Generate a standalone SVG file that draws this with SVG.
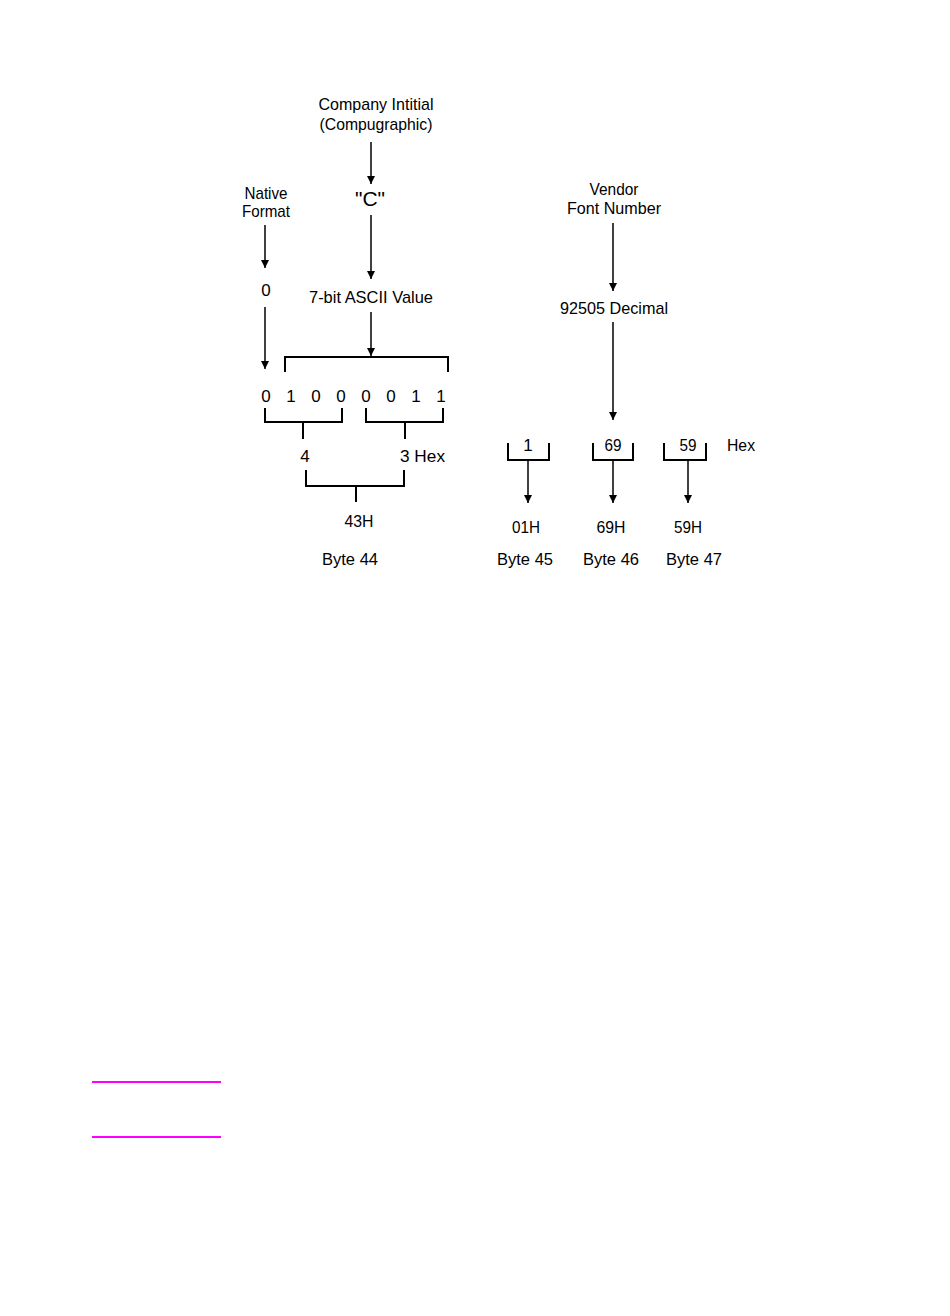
<svg xmlns="http://www.w3.org/2000/svg" width="950" height="1316" viewBox="0 0 950 1316">
<style>
text{font-family:"Liberation Sans",Arial,sans-serif;font-size:17px;fill:#000}
.m{text-anchor:middle}
.br{fill:none;stroke:#000;stroke-width:2}
.ar{fill:none;stroke:#000;stroke-width:1.5}
.mg{stroke:#ff00ff;stroke-width:2}
</style>
<defs>
<marker id="ad" markerUnits="userSpaceOnUse" markerWidth="8" markerHeight="8" viewBox="0 0 8 8" refX="8" refY="4" orient="auto">
<path d="M0,0 L8,4 L0,8 Z" fill="#000"/>
</marker>
</defs>
<rect width="950" height="1316" fill="#fff"/>
<g id="connectors">
<line class="ar" x1="265" y1="225" x2="265" y2="268" marker-end="url(#ad)"/>
<line class="ar" x1="265" y1="307" x2="265" y2="369" marker-end="url(#ad)"/>
<line class="ar" x1="371" y1="142" x2="371" y2="184" marker-end="url(#ad)"/>
<line class="ar" x1="371" y1="215" x2="371" y2="279" marker-end="url(#ad)"/>
<line class="ar" x1="371" y1="312" x2="371" y2="356" marker-end="url(#ad)"/>
<path class="br" d="M285,372 V357 H448 V372"/>
<path class="br" d="M265,408 V422 H342 V408 M303,422 V439"/>
<path class="br" d="M366,408 V422 H443 V408 M405,422 V439"/>
<path class="br" d="M306,470 V486 H404 V470 M356,486 V502"/>
<line class="ar" x1="613" y1="223" x2="613" y2="291" marker-end="url(#ad)"/>
<line class="ar" x1="613" y1="322" x2="613" y2="420" marker-end="url(#ad)"/>
<path class="br" d="M508,443 V460 H549 V443"/>
<path class="br" d="M593,443 V460 H633 V443"/>
<path class="br" d="M664,443 V460 H706 V443"/>
<line class="ar" x1="528" y1="460" x2="528" y2="503" marker-end="url(#ad)"/>
<line class="ar" x1="613" y1="460" x2="613" y2="503" marker-end="url(#ad)"/>
<line class="ar" x1="688" y1="460" x2="688" y2="503" marker-end="url(#ad)"/>
</g>
<g id="company">
<text class="m" x="376" y="110" textLength="115" lengthAdjust="spacingAndGlyphs">Company  Intitial</text>
<text class="m" x="376" y="130" textLength="113" lengthAdjust="spacingAndGlyphs">(Compugraphic)</text>
</g>
<g id="letterC"><text class="m" x="370" y="206" style="font-size:21px">"C"</text></g>
<g id="native">
<text class="m" x="266" y="199" textLength="43" lengthAdjust="spacingAndGlyphs">Native</text>
<text class="m" x="266" y="217" textLength="48" lengthAdjust="spacingAndGlyphs">Format</text>
</g>
<g id="zero"><text class="m" x="266" y="296">0</text></g>
<g id="ascii"><text class="m" x="371" y="303" textLength="124" lengthAdjust="spacingAndGlyphs">7-bit  ASCII  Value</text></g>
<g id="bits">
<text class="m" x="266" y="402">0</text>
<text class="m" x="291" y="402">1</text>
<text class="m" x="316" y="402">0</text>
<text class="m" x="341" y="402">0</text>
<text class="m" x="366" y="402">0</text>
<text class="m" x="391" y="402">0</text>
<text class="m" x="416" y="402">1</text>
<text class="m" x="441" y="402">1</text>
</g>
<g id="nibbles">
<text class="m" x="305" y="462">4</text>
<text x="400" y="462" textLength="45" lengthAdjust="spacingAndGlyphs">3  Hex</text>
</g>
<g id="byte44">
<text class="m" x="359" y="527" textLength="29" lengthAdjust="spacingAndGlyphs">43H</text>
<text class="m" x="350" y="565" textLength="56" lengthAdjust="spacingAndGlyphs">Byte  44</text>
</g>
<g id="vendor">
<text class="m" x="614" y="195" textLength="49" lengthAdjust="spacingAndGlyphs">Vendor</text>
<text class="m" x="614" y="214" textLength="94" lengthAdjust="spacingAndGlyphs">Font  Number</text>
</g>
<g id="decimal"><text class="m" x="614" y="314" textLength="108" lengthAdjust="spacingAndGlyphs">92505  Decimal</text></g>
<g id="hexdigits">
<text class="m" x="528" y="451">1</text>
<text class="m" x="613" y="451" textLength="17" lengthAdjust="spacingAndGlyphs">69</text>
<text class="m" x="688" y="451" textLength="17" lengthAdjust="spacingAndGlyphs">59</text>
<text x="727" y="451" textLength="28" lengthAdjust="spacingAndGlyphs">Hex</text>
</g>
<g id="byte45">
<text class="m" x="526" y="533" textLength="28" lengthAdjust="spacingAndGlyphs">01H</text>
<text class="m" x="525" y="565" textLength="56" lengthAdjust="spacingAndGlyphs">Byte  45</text>
</g>
<g id="byte46">
<text class="m" x="611" y="533" textLength="29" lengthAdjust="spacingAndGlyphs">69H</text>
<text class="m" x="611" y="565" textLength="56" lengthAdjust="spacingAndGlyphs">Byte  46</text>
</g>
<g id="byte47">
<text class="m" x="688" y="533" textLength="28" lengthAdjust="spacingAndGlyphs">59H</text>
<text class="m" x="694" y="565" textLength="56" lengthAdjust="spacingAndGlyphs">Byte  47</text>
</g>
<g id="rules">
<line class="mg" x1="92" y1="1082" x2="221" y2="1082"/>
<line class="mg" x1="92" y1="1137" x2="221" y2="1137"/>
</g>
</svg>
